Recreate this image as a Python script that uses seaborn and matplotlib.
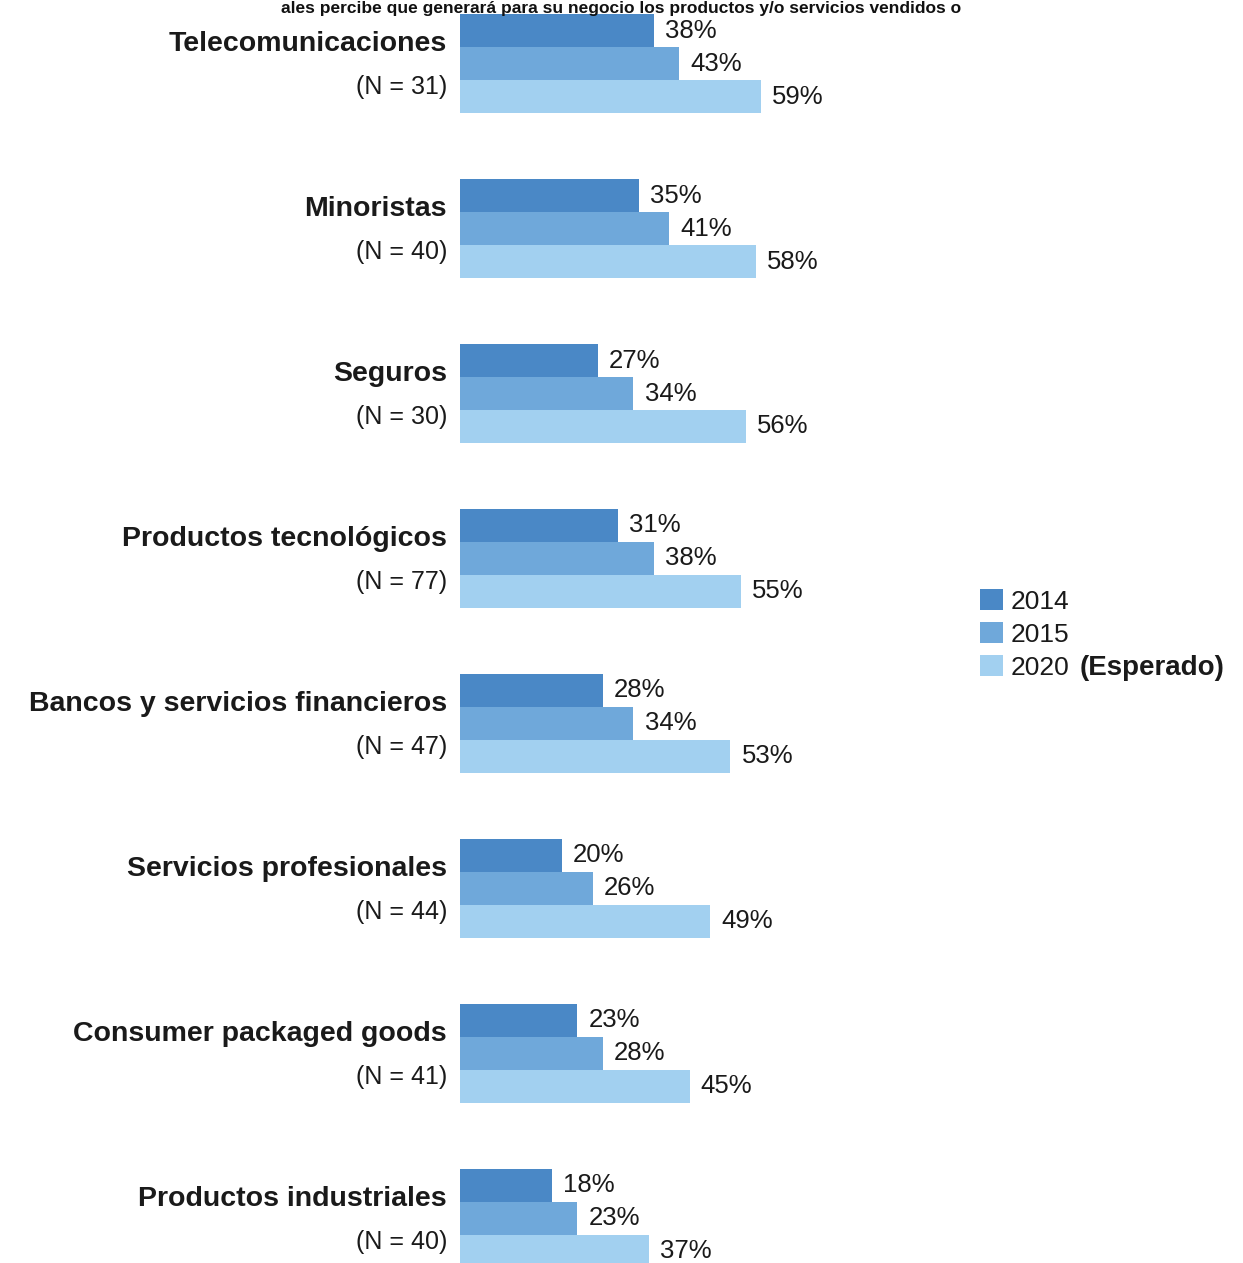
import matplotlib
matplotlib.use("Agg")
import matplotlib.pyplot as plt
import matplotlib.transforms as mtransforms
from matplotlib.patches import Patch
import seaborn as sns
import pandas as pd

categories = ["Telecomunicaciones", "Minoristas", "Seguros", "Productos tecnológicos",
              "Bancos y servicios financieros", "Servicios profesionales",
              "Consumer packaged goods", "Productos industriales"]
n_values = [31, 40, 30, 77, 47, 44, 41, 40]
years = ["2014", "2015", "2020"]
v2014 = [38, 35, 27, 31, 28, 20, 23, 18]
v2015 = [43, 41, 34, 38, 34, 26, 28, 23]
v2020 = [59, 58, 56, 55, 53, 49, 45, 37]
title_text = "ales percibe que generará para su negocio los productos y/o servicios vendidos o"

rows = []
for i, c in enumerate(categories):
    for y, vals in zip(years, [v2014, v2015, v2020]):
        rows.append({"cat": c, "year": y, "val": vals[i]})
df = pd.DataFrame(rows)

sns.set_theme(style="white")
plt.rcParams["font.family"] = ["Liberation Sans", "DejaVu Sans"]

W, H = 1243, 1263
fig = plt.figure(figsize=(W / 100, H / 100), dpi=100)
fig.patch.set_facecolor("white")
ax = fig.add_axes([460 / W, 0, 500 / W, 1])

palette = {"2014": "#4a88c6", "2015": "#6fa8da", "2020": "#a2d0f0"}
sns.barplot(data=df, y="cat", x="val", hue="year", hue_order=years, order=categories,
            palette=palette, orient="h", width=0.6, dodge=True, linewidth=0,
            saturation=1, ax=ax, legend=False)

ax.set_xlim(0, 98)
ax.set_ylim(7.27, -0.385)
ax.axis("off")

for cont in ax.containers:
    ax.bar_label(cont, labels=[f"{int(v)}%" for v in cont.datavalues], padding=8,
                 fontsize=18.5, color="#1a1a1a")

trans = mtransforms.blended_transform_factory(ax.transAxes, ax.transData)
for i, (c, n) in enumerate(zip(categories, n_values)):
    ax.text(-0.026, i - 0.12, c, transform=trans, ha="right", va="center",
            fontsize=20.5, fontweight="bold", color="#1a1a1a", clip_on=False)
    ax.text(-0.026, i + 0.14, f"(N = {n})", transform=trans, ha="right", va="center",
            fontsize=18, color="#1a1a1a", clip_on=False)

fig.text(0.5, 1 - 13 / H, title_text, ha="center", va="baseline",
         fontsize=12.5, fontweight="bold", color="#111111")

handles = [Patch(facecolor=palette[y], edgecolor="none") for y in years]
leg = fig.legend(handles, years, loc="upper left",
                 bbox_to_anchor=(967 / W, 1 - 576 / H), frameon=False,
                 fontsize=19, handlelength=0.85, handleheight=0.85,
                 labelspacing=0.32, handletextpad=0.3, borderpad=0)
for t in leg.get_texts():
    t.set_color("#1a1a1a")

fig.canvas.draw()
renderer = fig.canvas.get_renderer()
bb = leg.get_texts()[2].get_window_extent(renderer)
fig.text((bb.x1 + 10) / W, (bb.y0 + bb.y1) / 2 / H, "(Esperado)", ha="left", va="center",
         fontsize=20, fontweight="bold", color="#1a1a1a")

fig.savefig("out.png", dpi=100, facecolor="white")
